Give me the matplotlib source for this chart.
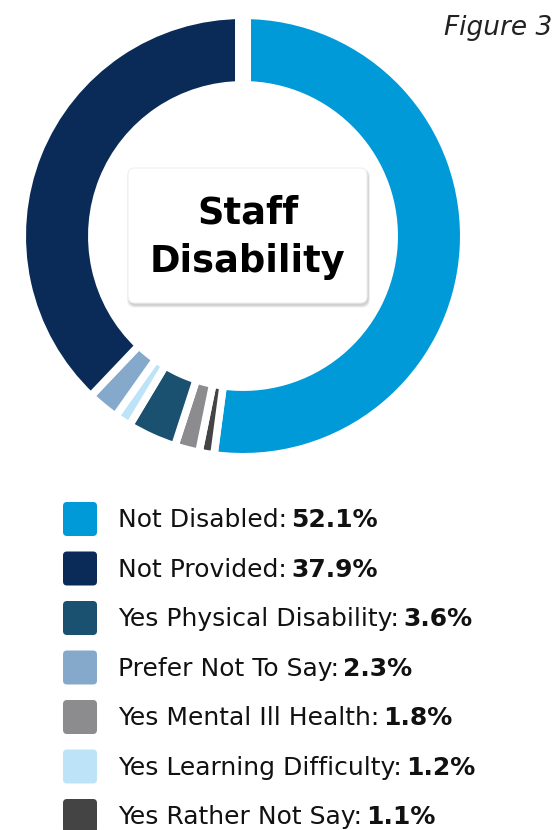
import matplotlib.pyplot as plt
from matplotlib.patches import FancyBboxPatch

# Staff disability breakdown, in drawing order (clockwise from the top)
categories = ['Not Disabled', 'Yes Rather Not Say', 'Yes Mental Ill Health',
              'Yes Physical Disability', 'Yes Learning Difficulty',
              'Prefer Not To Say', 'Not Provided']
shares = [52.1, 1.1, 1.8, 3.6, 1.2, 2.3, 37.9]
colors = ['#009ad9', '#444444', '#8c8c8e', '#1a5170', '#bde3f8', '#85a9cb', '#0a2b57']

# Legend order
legend_order = ['Not Disabled', 'Not Provided', 'Yes Physical Disability',
                'Prefer Not To Say', 'Yes Mental Ill Health',
                'Yes Learning Difficulty', 'Yes Rather Not Say']

W, H = 557, 830
plt.rcParams['font.family'] = ['DejaVu Sans']


def main():
    fig = plt.figure(figsize=(W / 100, H / 100), dpi=100)
    fig.patch.set_facecolor('white')

    # donut; radius padded because the white wedge edges eat into the ring
    cx, cy, r = 243, 236, 217
    ax = fig.add_axes([(cx - r) / W, 1 - (cy + r) / H, 2 * r / W, 2 * r / H])
    ax.pie(shares, colors=colors, startangle=90, counterclock=False, radius=1.0175,
           wedgeprops=dict(width=0.321, edgecolor='white', linewidth=5.5))
    # wider split at the top where the ring starts
    ax.plot([0, 0], [0.6, 1.1], color='white', lw=11.5, solid_capstyle='butt')
    ax.set_xlim(-1, 1)
    ax.set_ylim(-1, 1)
    ax.set_aspect('equal')
    ax.axis('off')

    # title card in the middle
    fx = fig.add_axes([0, 0, 1, 1])
    fx.set_xlim(0, W)
    fx.set_ylim(H, 0)
    fx.axis('off')
    bx, by, bw, bh = 128, 168, 239, 135
    for i, a in enumerate([0.04, 0.045, 0.05, 0.06]):
        d = 4 - i
        fx.add_patch(FancyBboxPatch((bx - d * 0.5 + 1, by - d * 0.3 + 2), bw + d, bh + d,
                                    boxstyle='round,pad=0,rounding_size=8',
                                    fc='black', ec='none', alpha=a))
    fx.add_patch(FancyBboxPatch((bx, by), bw, bh, boxstyle='round,pad=0,rounding_size=7',
                                fc='white', ec='#f0f0f0', lw=0.8))
    fx.text(bx + bw / 2, by + bh / 2 + 2, 'Staff\nDisability', ha='center', va='center',
            fontsize=26.5, fontweight='bold', color='black', linespacing=1.4)

    fx.text(552, 28, 'Figure 3', ha='right', va='center', fontsize=19,
            style='italic', color='#222222')

    # legend
    row0, step = 519, 49.5
    for i, name in enumerate(legend_order):
        y = row0 + i * step
        c = colors[categories.index(name)]
        v = shares[categories.index(name)]
        fx.add_patch(FancyBboxPatch((63, y - 17), 34, 34, boxstyle='round,pad=0,rounding_size=4',
                                    fc=c, ec='none'))
        t = fx.text(118, y + 1, name + ':', ha='left', va='center', fontsize=18,
                    color='#111111')
        fx.annotate(f'{v}%', xy=(1, 0.5), xycoords=t, xytext=(3, 0), textcoords='offset points',
                    ha='left', va='center', fontsize=18, fontweight='bold', color='#111111')

    fig.savefig('out.png', dpi=100, facecolor='white')


if __name__ == '__main__':
    main()
